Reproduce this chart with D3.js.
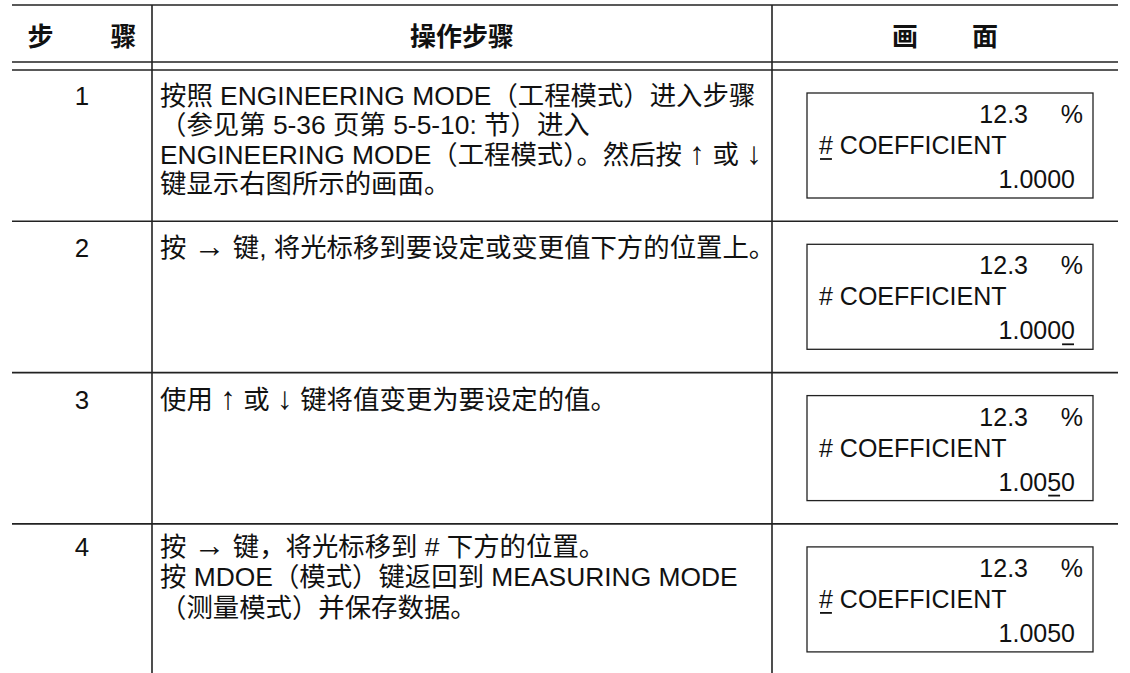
<!DOCTYPE html>
<html><head><meta charset="utf-8">
<script src="https://cdn.jsdelivr.net/npm/d3@7"></script>
<style>
html,body{margin:0;padding:0;background:#fff;}
svg{display:block;}
text{font-family:"Liberation Sans",Arial,"Noto Sans CJK SC",sans-serif;fill:#111;}
</style></head>
<body><svg id="c" width="1130" height="673"></svg>
<script>
// ---- data ----
const headerCols = [["步","骤"],["操作步骤"],["画","面"]];
const steps = ["1","2","3","4"];
const stepText = [
  ["按照 ENGINEERING MODE（工程模式）进入步骤",
   "（参见第 5-36 页第 5-5-10: 节）进入",
   "ENGINEERING MODE（工程模式）。然后按 ↑ 或 ↓",
   "键显示右图所示的画面。"],
  ["按 → 键, 将光标移到要设定或变更值下方的位置上。"],
  ["使用 ↑ 或 ↓ 键将值变更为要设定的值。"],
  ["按 → 键，将光标移到 # 下方的位置。",
   "按 MDOE（模式）键返回到 MEASURING MODE",
   "（测量模式）并保存数据。"]
];
const screenTop = ["12.3","12.3","12.3","12.3"];
const screenUnit = ["%","%","%","%"];
const screenLabel = ["# COEFFICIENT","# COEFFICIENT","# COEFFICIENT","# COEFFICIENT"];
const screenValue = ["1.0000","1.0000","1.0050","1.0050"];
// cursor: which line ("label"/"value") and char index underlined
const cursorLine = ["label","value","value","label"];
const cursorIndex = [0,5,4,0];

// ---- layout ----
const svg = d3.select("#c");
const colEdges = [12,152,772,1118];
const colC = i => (colEdges[i]+colEdges[i+1])/2;
const y = d3.scaleBand().domain(steps).range([70, 70 + 4*151.3]).paddingInner(0).paddingOuter(0);
const stroke = "#222";

// table lines
svg.append("line").attr("x1",12).attr("x2",1118).attr("y1",5).attr("y2",5).attr("stroke",stroke).attr("stroke-width",1.6);
svg.append("line").attr("x1",12).attr("x2",1118).attr("y1",62).attr("y2",62).attr("stroke",stroke).attr("stroke-width",1.6);
svg.selectAll("line.row").data(steps).join("line").attr("class","row")
  .attr("x1",12).attr("x2",1118)
  .attr("y1",d=>y(d)).attr("y2",d=>y(d))
  .attr("stroke",stroke).attr("stroke-width",1.6);
svg.selectAll("line.col").data([152,772]).join("line").attr("class","col")
  .attr("x1",d=>d).attr("x2",d=>d).attr("y1",5).attr("y2",673)
  .attr("stroke",stroke).attr("stroke-width",1.6);

// headers
const hy = 46;
const hfs = 26;
headerCols.forEach((h,i)=>{
  if(h.length===1){
    svg.append("text").attr("x",colC(i)).attr("y",hy).attr("text-anchor","middle")
      .attr("font-size",hfs).attr("font-weight","bold").text(h[0]);
  } else {
    const gap = i===0 ? 41.5 : 40;
    h.forEach((c,k)=>{
      svg.append("text").attr("x",colC(i)+(k===0?-gap:gap)).attr("y",hy).attr("text-anchor","middle")
        .attr("font-size",hfs).attr("font-weight","bold").text(c);
    });
  }
});

const fs = 26.4;
const bfs = 25;
const lineH = 29.3;
const firstBase = [35,36,36,32];
function addLine(sel, str){
  // split arrows into larger tspans
  str.split(/([↑↓→])/).filter(p=>p.length).forEach(p=>{
    const ts = sel.append("tspan").text(p);
    if(/[↑↓→]/.test(p)) ts.attr("font-size", fs*1.2);
  });
}
steps.forEach((s,r)=>{
  const top = y(s);
  svg.append("text").attr("x",colC(0)).attr("y",top+firstBase[r]).attr("text-anchor","middle")
    .attr("font-size",fs-0.5).text(s);
  stepText[r].forEach((t,k)=>{
    const tx = svg.append("text").attr("x",160).attr("y",top+firstBase[r]+k*(r===3?30.5:lineH))
      .attr("font-size",fs);
    addLine(tx, t);
  });
  // screen box
  const bx = 807, bw = 286, by = top+23, bh = 105;
  svg.append("rect").attr("x",bx).attr("y",by).attr("width",bw).attr("height",bh)
    .attr("fill","none").attr("stroke",stroke).attr("stroke-width",1.3);
  svg.append("text").attr("x",1028).attr("y",by+30).attr("text-anchor","end").attr("font-size",bfs).text(screenTop[r]);
  svg.append("text").attr("x",1083).attr("y",by+30).attr("text-anchor","end").attr("font-size",bfs).text(screenUnit[r]);
  const lab = svg.append("text").attr("x",819).attr("y",by+61).attr("font-size",bfs).text(screenLabel[r]);
  const val = svg.append("text").attr("x",1075).attr("y",by+95).attr("text-anchor","end").attr("font-size",bfs).text(screenValue[r]);
  const target = cursorLine[r]==="label" ? lab : val;
  const node = target.node();
  const i = cursorIndex[r];
  const p0 = node.getStartPositionOfChar(i), p1 = node.getEndPositionOfChar(i);
  const baseY = +target.attr("y");
  svg.append("line").attr("x1",p0.x+1).attr("x2",p1.x-1).attr("y1",baseY+5).attr("y2",baseY+5)
    .attr("stroke","#111").attr("stroke-width",1.8);
});
</script></body></html>
